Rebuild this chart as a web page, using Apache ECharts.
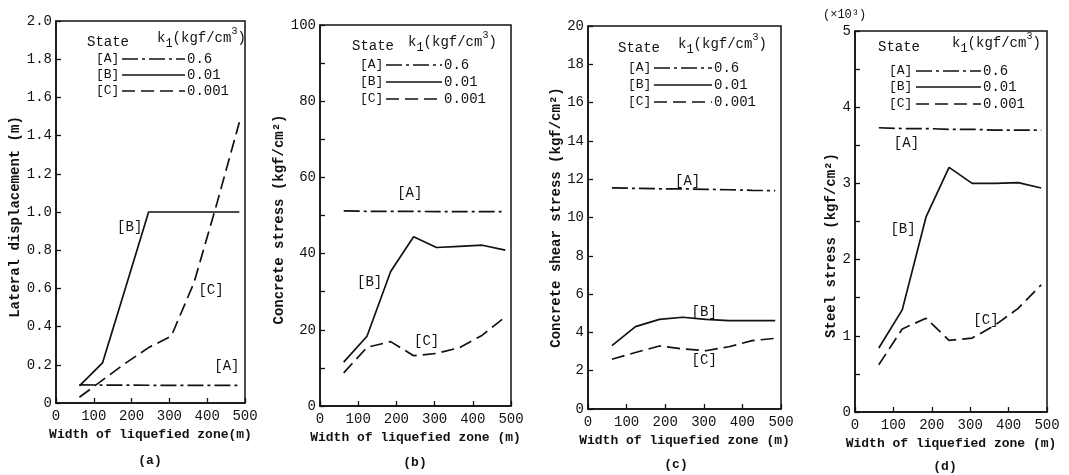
<!DOCTYPE html>
<html><head><meta charset="utf-8">
<script src="https://cdn.jsdelivr.net/npm/echarts@6/dist/echarts.min.js"></script>
<style>html,body{margin:0;padding:0;background:#fff}#c{width:1069px;height:475px}</style>
</head><body><div id="c"></div>
<script>
// ---- data ----
const widths = [62, 123, 185, 245, 305, 365, 425, 485];           // Width of liquefied zone (m)
const xTickLabels = ['0', '100', '200', '300', '400', '500'];

// (a) lateral displacement (m)
const dispA = [0.095, 0.094, 0.094, 0.093, 0.092, 0.092, 0.092, 0.092];
const dispB = [0.09, 0.21, 0.61, 1.0, 1.0, 1.0, 1.0, 1.0];
const dispC = [0.03, 0.12, 0.21, 0.29, 0.35, 0.63, 1.04, 1.47];
// (b) concrete stress (kgf/cm2)
const concA = [51.2, 51.1, 51.1, 51.1, 51.0, 51.0, 51.0, 51.0];
const concB = [11.5, 18.3, 35.3, 44.4, 41.6, 41.9, 42.2, 40.9];
const concC = [8.7, 15.4, 16.9, 13.2, 13.8, 15.3, 18.6, 23.4];
// (c) concrete shear stress (kgf/cm2)
const shearA = [11.55, 11.52, 11.5, 11.5, 11.47, 11.45, 11.42, 11.4];
const shearB = [3.31, 4.30, 4.68, 4.79, 4.68, 4.61, 4.61, 4.61];
const shearC = [2.6, 2.95, 3.29, 3.14, 3.04, 3.25, 3.57, 3.69];
// (d) steel stress (x10^3 kgf/cm2)
const steelA = [3.73, 3.72, 3.72, 3.71, 3.71, 3.70, 3.70, 3.70];
const steelB = [0.84, 1.34, 2.56, 3.21, 3.0, 3.0, 3.01, 2.94];
const steelC = [0.62, 1.09, 1.23, 0.94, 0.97, 1.14, 1.36, 1.67];

const stateNames = ['[A]', '[B]', '[C]'];
const k1Values = ['0.6', '0.01', '0.001'];

// ---- styles / layout ----
const FONT = 'Liberation Mono';
const INK = '#111';
const DASHES = [[16, 4, 3, 4], 'solid', [13, 6]];
const LW = 1.7;

const panels = [
  { grid: {left: 56, top: 21, width: 189, height: 382}, yMax: 2, yInt: 0.2,
    fmt: v => v === 0 ? '0' : v.toFixed(1),
    yName: 'Lateral displacement (m)', yGap: 34, yPad: [0, 10, 0, 0],
    xName: 'Width of liquefied zone(m)', xGap: 22,
    data: [dispA, dispB, dispC],
    ann: [[452, 0.19], [195, 0.92], [410, 0.59]],
    leg: {stateX: 87, headY: 42, k1X: 157, rows: [59, 75, 91], brX: 96, l1: 122, l2: 185, valX: 187},
    cap: {x: 150, y: 461, t: '(a)'} },
  { grid: {left: 320, top: 25, width: 191, height: 381}, yMax: 100, yInt: 10,
    fmt: v => (Math.round(v) % 20 === 0 ? String(v) : ''),
    yName: 'Concrete stress (kgf/cm²)', yGap: 24, yPad: [0, 8, 0, 0],
    xName: 'Width of liquefied zone (m)', xGap: 24,
    data: [concA, concB, concC],
    ann: [[235, 55.8], [130, 32.4], [279, 16.9]],
    leg: {stateX: 352, headY: 46, k1X: 408, rows: [65, 82, 99], brX: 360, l1: 386, l2: 442, valX: 444},
    cap: {x: 415, y: 463, t: '(b)'} },
  { grid: {left: 588, top: 26, width: 193, height: 383}, yMax: 20, yInt: 2,
    fmt: v => String(v),
    yName: 'Concrete shear stress (kgf/cm²)', yGap: 20, yPad: [0, 0, 0, 0],
    xName: 'Width of liquefied zone (m)', xGap: 24,
    data: [shearA, shearB, shearC],
    ann: [[258, 11.87], [301, 5.05], [301, 2.56]],
    leg: {stateX: 618, headY: 48, k1X: 678, rows: [68, 85, 102], brX: 628, l1: 654, l2: 712, valX: 714},
    cap: {x: 676, y: 465, t: '(c)'} },
  { grid: {left: 855, top: 31, width: 192, height: 381}, yMax: 5, yInt: 0.5,
    fmt: v => (Number.isInteger(v) ? String(v) : ''),
    yName: 'Steel stress (kgf/cm²)', yGap: 14, yPad: [0, 48, 0, 0],
    xName: 'Width of liquefied zone (m)', xGap: 25,
    data: [steelA, steelB, steelC],
    ann: [[134, 3.53], [125, 2.40], [341, 1.21]],
    leg: {stateX: 878, headY: 47, k1X: 952, rows: [71, 87, 104], brX: 889, l1: 916, l2: 981, valX: 983},
    cap: {x: 945, y: 467, t: '(d)'} }
];

const txt = (size, extra) => Object.assign({color: INK, fontFamily: FONT, fontSize: size}, extra || {});

const option = {
  animation: false,
  backgroundColor: '#fff',
  grid: [], xAxis: [], yAxis: [], series: [], graphic: []
};

panels.forEach((p, i) => {
  option.grid.push(Object.assign({show: true, borderColor: INK, borderWidth: 1.5, backgroundColor: 'transparent'}, p.grid));
  option.xAxis.push({
    gridIndex: i, type: 'value', min: 0, max: 500, interval: 100,
    axisLine: {show: true, onZero: false, lineStyle: {color: INK, width: 1.5}},
    axisTick: {show: true, inside: true, length: 5, lineStyle: {color: INK, width: 1.3}},
    axisLabel: txt(14, {margin: 6, formatter: v => xTickLabels[Math.round(v / 100)]}),
    splitLine: {show: false},
    name: p.xName, nameLocation: 'middle', nameGap: p.xGap,
    nameTextStyle: txt(13, {fontWeight: 'bold'})
  });
  option.yAxis.push({
    gridIndex: i, type: 'value', min: 0, max: p.yMax, interval: p.yInt,
    axisLine: {show: true, onZero: false, lineStyle: {color: INK, width: 1.5}},
    axisTick: {show: true, inside: true, length: 5, lineStyle: {color: INK, width: 1.3}},
    axisLabel: txt(14, {margin: 4, formatter: p.fmt}),
    splitLine: {show: false},
    name: p.yName, nameLocation: 'middle', nameGap: p.yGap,
    nameTextStyle: txt(14, {fontWeight: 'bold', padding: p.yPad})
  });
  p.data.forEach((arr, k) => {
    option.series.push({
      type: 'line', xAxisIndex: i, yAxisIndex: i, silent: true,
      showSymbol: false, symbol: 'none',
      data: widths.map((x, j) => [x, arr[j]]),
      lineStyle: {color: INK, width: LW, type: DASHES[k]},
      markPoint: {
        symbol: 'circle', symbolSize: 0, silent: true,
        label: {show: true, position: 'inside', formatter: '{b}', color: INK, fontFamily: FONT, fontSize: 14},
        data: [{name: stateNames[k], coord: p.ann[k]}]
      }
    });
  });
  // legend block
  const L = p.leg;
  option.graphic.push({type: 'text', silent: true, style: {text: 'State', x: L.stateX, y: L.headY,
    fill: INK, font: '14px ' + FONT, verticalAlign: 'middle'}});
  option.graphic.push({type: 'text', silent: true, style: {
    text: '{n|k}{s|1}{n|(kgf/cm}{p|3}{n|)}', x: L.k1X, y: L.headY - 4, verticalAlign: 'middle',
    rich: {
      n: {fontSize: 14, fontFamily: FONT, fill: INK, lineHeight: 24},
      s: {fontSize: 12, fontFamily: FONT, fill: INK, lineHeight: 12, verticalAlign: 'bottom'},
      p: {fontSize: 10, fontFamily: FONT, fill: INK, lineHeight: 16, verticalAlign: 'top'}
    }}});
  stateNames.forEach((s, k) => {
    const y = L.rows[k];
    option.graphic.push({type: 'text', silent: true, style: {text: s, x: L.brX, y: y,
      fill: INK, font: '13px ' + FONT, verticalAlign: 'middle'}});
    option.graphic.push({type: 'line', silent: true, shape: {x1: L.l1, y1: y, x2: L.l2, y2: y},
      style: {stroke: INK, lineWidth: LW, lineDash: DASHES[k] === 'solid' ? null : DASHES[k]}});
    option.graphic.push({type: 'text', silent: true, style: {text: k1Values[k], x: L.valX, y: y,
      fill: INK, font: '14px ' + FONT, verticalAlign: 'middle'}});
  });
  option.graphic.push({type: 'text', silent: true, style: {text: p.cap.t, x: p.cap.x, y: p.cap.y,
    fill: INK, font: 'bold 13px ' + FONT, align: 'center', verticalAlign: 'middle'}});
});
option.graphic.push({type: 'text', silent: true, style: {text: '(×10³)', x: 823, y: 15,
  fill: INK, font: '12px ' + FONT, verticalAlign: 'middle'}});

const chart = echarts.init(document.getElementById('c'), null, {renderer: 'canvas'});
chart.setOption(option);
</script></body></html>
